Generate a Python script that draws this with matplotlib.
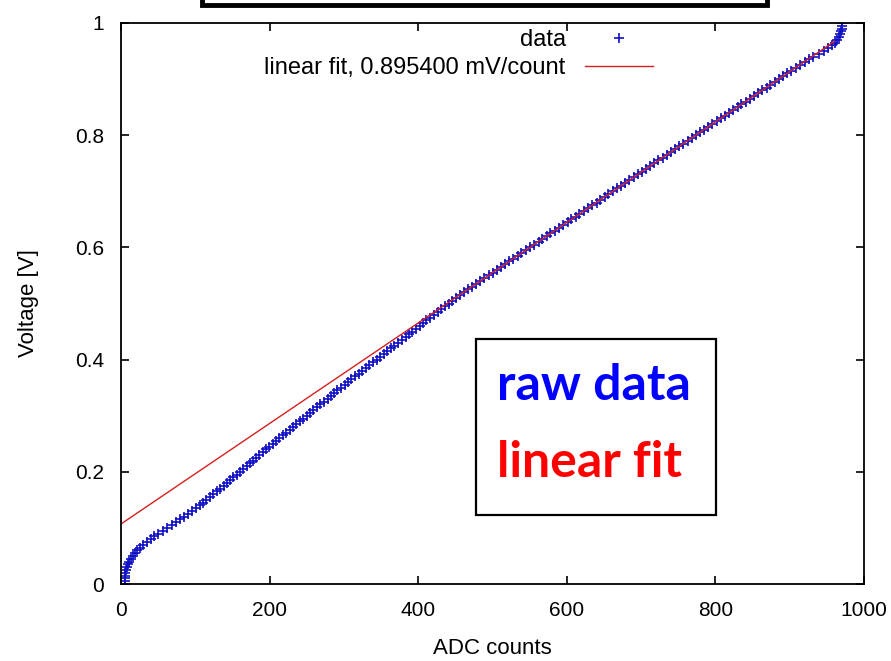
import matplotlib
matplotlib.use("Agg")
import matplotlib.pyplot as plt
from matplotlib.patches import Rectangle
import numpy as np

# measured points: voltage steps and the ADC count read at each step
voltage = np.arange(0, 201) * 0.005
adc_counts = [
    5, 5, 5, 6, 6, 7, 8, 9, 11, 13,
    16, 19, 22, 26, 30, 35, 40, 45, 50, 56,
    62, 68, 74, 79, 85, 90, 96, 101, 106, 111,
    115, 120, 124, 129, 133, 138, 142, 147, 151, 156,
    160, 164, 169, 173, 178, 182, 186, 191, 195, 199,
    204, 208, 213, 218, 222, 227, 231, 236, 241, 245,
    250, 255, 259, 264, 268, 273, 278, 282, 287, 291,
    296, 301, 306, 310, 315, 320, 325, 330, 334, 339,
    344, 349, 354, 358, 363, 368, 373, 378, 383, 387,
    392, 397, 402, 407, 411, 416, 421, 426, 431, 436,
    441, 446, 451, 456, 461, 467, 472, 478, 483, 489,
    495, 500, 506, 511, 517, 522, 528, 534, 539, 545,
    550, 556, 562, 567, 573, 578, 584, 589, 595, 601,
    606, 612, 617, 623, 629, 634, 640, 645, 651, 656,
    662, 668, 673, 679, 684, 690, 696, 701, 707, 712,
    718, 723, 729, 735, 740, 746, 751, 757, 763, 768,
    774, 779, 785, 790, 796, 802, 807, 813, 818, 824,
    830, 835, 841, 846, 852, 857, 863, 869, 874, 880,
    885, 891, 897, 902, 908, 914, 920, 926, 932, 939,
    946, 952, 957, 961, 964, 966, 968, 969, 970, 970,
    971,
]

# linear fit end points
fit_x = [0, 960]
fit_y = [0.107, 0.967]

xticks = [0, 200, 400, 600, 800, 1000]
yticks = [0, 0.2, 0.4, 0.6, 0.8, 1]
ytick_labels = ["0", "0.2", "0.4", "0.6", "0.8", "1"]

plt.rcParams["font.family"] = ["Liberation Sans", "DejaVu Sans"]

W, H = 891, 661
fig = plt.figure(figsize=(W / 100, H / 100), dpi=100)
ax = fig.add_axes([121 / W, 1 - 584 / H, (864 - 121) / W, (584 - 23) / H])

ax.plot(adc_counts, voltage, linestyle="none", marker="+", color="#1010c4",
        markersize=7, markeredgewidth=1.2, label="data")
ax.plot(fit_x, fit_y, color="#d42020", linewidth=1.0,
        label="linear fit, 0.895400 mV/count")

ax.set_xlim(0, 1000)
ax.set_ylim(0, 1)
ax.set_xticks(xticks)
ax.set_yticks(yticks)
ax.set_yticklabels(ytick_labels)
ax.tick_params(direction="in", length=6, width=1.2, top=True, right=True,
               labelsize=15, pad=12, colors="black")
for s in ax.spines.values():
    s.set_linewidth(1.3)

ax.set_xlabel("ADC counts", fontsize=16, labelpad=13)
ax.set_ylabel("Voltage [V]", fontsize=16, labelpad=26)

leg = ax.legend(markerfirst=False, frameon=False, loc="upper right",
                bbox_to_anchor=(653 / W, 1 - 29 / H), bbox_transform=fig.transFigure,
                borderaxespad=0, borderpad=0, fontsize=17, handlelength=2.9,
                handletextpad=0.8, labelspacing=0.25, numpoints=1)

# cut-off title box at the top
fig.patches.append(Rectangle((202 / W, 1 - 5 / H), (767 - 202) / W, 40 / H,
                             transform=fig.transFigure, facecolor="white",
                             edgecolor="black", linewidth=3.5))

# annotation box
fig.patches.append(Rectangle((476 / W, 1 - 515 / H), (716 - 476) / W, (515 - 339) / H,
                             transform=fig.transFigure, facecolor="white",
                             edgecolor="black", linewidth=1.6, zorder=5))
fig.text(497 / W, 1 - 400 / H, "raw data", color="#0000ff", fontsize=36,
         fontweight="bold", family=["Lato", "DejaVu Sans"], va="baseline", zorder=6)
fig.text(497 / W, 1 - 477 / H, "linear fit", color="#ff0000", fontsize=36,
         fontweight="bold", family=["Lato", "DejaVu Sans"], va="baseline", zorder=6)

fig.savefig("out.png", dpi=100)
